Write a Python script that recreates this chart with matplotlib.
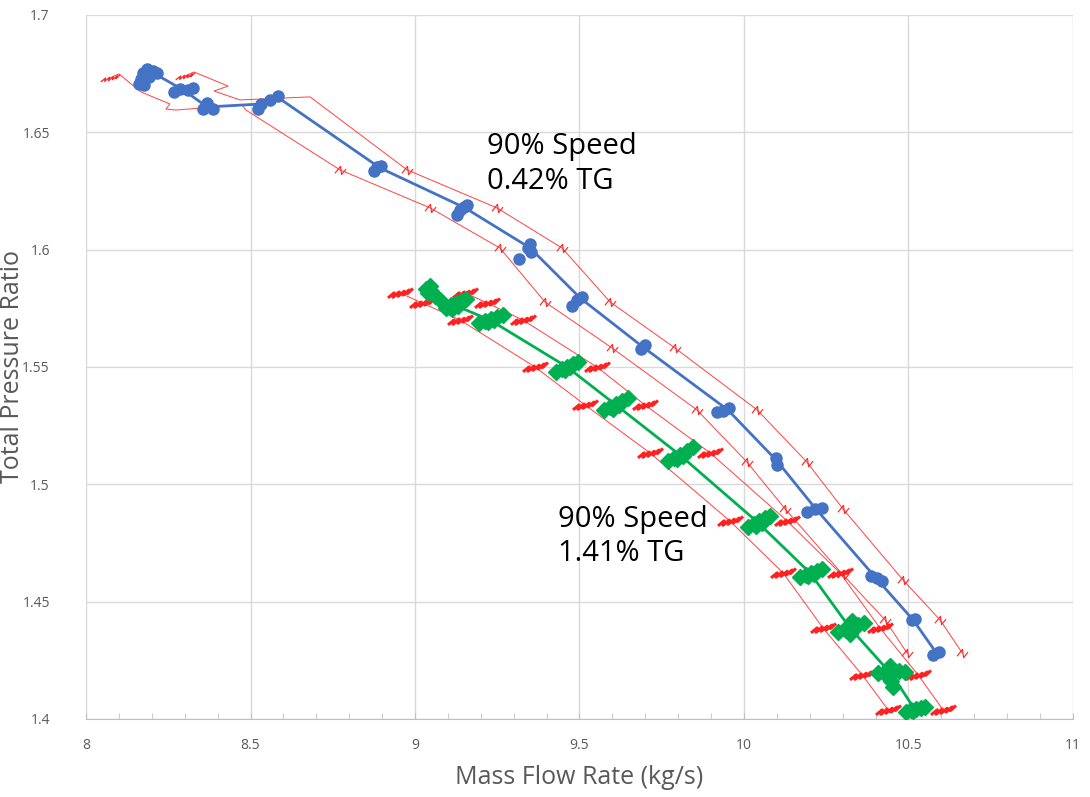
import matplotlib
matplotlib.use('Agg')
import matplotlib.pyplot as plt
from matplotlib.path import Path
from matplotlib.ticker import MultipleLocator

plt.rcParams['font.family'] = ['Open Sans', 'DejaVu Sans']

# --- 90% speed, 0.42% TG (blue) ---
blue_line_x = [8.216, 8.301, 8.368, 8.535, 8.581, 8.894, 9.152, 9.350, 9.502, 9.693,
               9.951, 10.100, 10.216, 10.401, 10.514, 10.587]
blue_line_y = [1.6744, 1.6676, 1.6608, 1.6621, 1.6651, 1.6348, 1.6178, 1.6007, 1.5794, 1.5585,
               1.5317, 1.5100, 1.4899, 1.4601, 1.4422, 1.4277]

blue_pts_x = [8.167, 8.173, 8.185, 8.204, 8.216, 8.176, 8.191, 8.161,
              8.267, 8.286, 8.310, 8.325,
              8.356, 8.368, 8.386,
              8.523, 8.532, 8.559, 8.584,
              8.875, 8.884, 8.897,
              9.128, 9.137, 9.149, 9.158,
              9.316, 9.343, 9.353, 9.350,
              9.477, 9.492, 9.508,
              9.687, 9.699,
              9.918, 9.936, 9.954,
              10.097, 10.100,
              10.191, 10.216, 10.237,
              10.386, 10.404, 10.420,
              10.511, 10.520,
              10.574, 10.593]
blue_pts_y = [1.6727, 1.6753, 1.6770, 1.6761, 1.6753, 1.6702, 1.6736, 1.6706,
              1.6672, 1.6685, 1.6680, 1.6689,
              1.6600, 1.6625, 1.6600,
              1.6600, 1.6621, 1.6638, 1.6655,
              1.6335, 1.6352, 1.6357,
              1.6148, 1.6169, 1.6182, 1.6190,
              1.5960, 1.6007, 1.5990, 1.6024,
              1.5760, 1.5786, 1.5798,
              1.5577, 1.5594,
              1.5308, 1.5313, 1.5326,
              1.5112, 1.5083,
              1.4882, 1.4895, 1.4899,
              1.4610, 1.4601, 1.4588,
              1.4422, 1.4426,
              1.4273, 1.4286]

# uncertainty bounds around the blue run
blue_lo_x = [8.073, 8.100, 8.167, 8.255, 8.243, 8.274, 8.474, 8.486, 8.772, 9.046, 9.258,
             9.395, 9.599, 9.857, 10.009, 10.125, 10.301, 10.429, 10.495]
blue_lo_y = [1.6732, 1.6749, 1.6672, 1.6621, 1.6599, 1.6595, 1.6617, 1.6595, 1.6340, 1.6178, 1.6007,
             1.5777, 1.5581, 1.5317, 1.5095, 1.4895, 1.4614, 1.4422, 1.4282]
blue_hi_x = [8.301, 8.328, 8.432, 8.389, 8.468, 8.681, 8.976, 9.249, 9.447, 9.593, 9.790,
             10.040, 10.191, 10.301, 10.483, 10.596, 10.663]
blue_hi_y = [1.6740, 1.6757, 1.6697, 1.6676, 1.6638, 1.6651, 1.6340, 1.6178, 1.6007, 1.5777, 1.5581,
             1.5317, 1.5095, 1.4895, 1.4593, 1.4422, 1.4282]

# --- 90% speed, 1.41% TG (green) ---
green_line_x = [9.052, 9.119, 9.228, 9.462, 9.611, 9.805, 10.040, 10.201, 10.322, 10.450, 10.520]
green_line_y = [1.5816, 1.5764, 1.5700, 1.5500, 1.5338, 1.5125, 1.4840, 1.4622, 1.4388, 1.4188, 1.4039]

green_pts_x = [9.033, 9.049, 9.061, 9.076, 9.046, 9.040,
               9.094, 9.109, 9.125, 9.140, 9.155, 9.113, 9.130,
               9.195, 9.213, 9.231, 9.249, 9.268, 9.222, 9.240,
               9.429, 9.447, 9.462, 9.480, 9.495, 9.455, 9.472,
               9.575, 9.593, 9.611, 9.629, 9.647, 9.603, 9.620,
               9.769, 9.787, 9.806, 9.827, 9.845, 9.795, 9.815,
               10.012, 10.030, 10.046, 10.064, 10.079, 10.038, 10.055,
               10.170, 10.188, 10.204, 10.222, 10.237, 10.196, 10.212,
               10.286, 10.307, 10.325, 10.347, 10.365, 10.322, 10.328, 10.310,
               10.407, 10.429, 10.450, 10.471, 10.489, 10.444, 10.447, 10.453, 10.438,
               10.492, 10.508, 10.523, 10.538, 10.550, 10.515]
green_pts_y = [1.5833, 1.5824, 1.5803, 1.5786, 1.5845, 1.5815,
               1.5752, 1.5764, 1.5773, 1.5781, 1.5790, 1.5747, 1.5760,
               1.5688, 1.5696, 1.5705, 1.5713, 1.5722, 1.5690, 1.5700,
               1.5479, 1.5492, 1.5500, 1.5513, 1.5522, 1.5485, 1.5498,
               1.5317, 1.5330, 1.5343, 1.5355, 1.5368, 1.5323, 1.5337,
               1.5100, 1.5112, 1.5125, 1.5142, 1.5159, 1.5108, 1.5122,
               1.4818, 1.4831, 1.4844, 1.4857, 1.4865, 1.4822, 1.4836,
               1.4605, 1.4614, 1.4622, 1.4631, 1.4639, 1.4608, 1.4618,
               1.4371, 1.4384, 1.4392, 1.4401, 1.4409, 1.4362, 1.4418, 1.4380,
               1.4196, 1.4201, 1.4196, 1.4205, 1.4201, 1.4226, 1.4162, 1.4137, 1.4180,
               1.4030, 1.4039, 1.4043, 1.4047, 1.4052, 1.4032]

green_lo_x = [8.954, 9.021, 9.137, 9.365, 9.517, 9.714, 9.957, 10.119, 10.240, 10.359, 10.438]
green_hi_x = [9.152, 9.219, 9.328, 9.553, 9.699, 9.897, 10.131, 10.292, 10.413, 10.529, 10.605]
green_bnd_y = [1.5816, 1.5773, 1.5700, 1.5500, 1.5338, 1.5134, 1.4844, 1.4622, 1.4388, 1.4188, 1.4039]

BLUE = '#4472C4'
GREEN = '#00B050'
RED = '#FF2020'
GREY = '#595959'

# small kink drawn where the bound traces jump, and the dense scribble of the green bounds
kink = Path([(-0.8, -0.4), (0.0, 0.6), (0.15, -0.6), (0.8, 0.2)])
scribble = Path([(-1, -0.35), (-0.5, 0.05), (-0.6, -0.3), (-0.1, 0.12), (-0.2, -0.22),
                 (0.3, 0.18), (0.2, -0.12), (0.7, 0.28), (0.55, 0.0), (1, 0.4)])

fig = plt.figure(figsize=(10.9, 7.97), dpi=100)
ax = fig.add_axes([0.0789, 0.0979, 0.9055, 0.8833])

# red bound traces
ax.plot(blue_lo_x, blue_lo_y, color=RED, lw=0.7, alpha=0.85, zorder=2)
ax.plot(blue_hi_x, blue_hi_y, color=RED, lw=0.7, alpha=0.85, zorder=2)
ax.plot(blue_lo_x[8:], blue_lo_y[8:], ls='none', marker=kink, ms=8, mfc='none',
        mec=RED, mew=0.8, zorder=2)
ax.plot(blue_hi_x[6:], blue_hi_y[6:], ls='none', marker=kink, ms=8, mfc='none',
        mec=RED, mew=0.8, zorder=2)
ax.plot([blue_lo_x[0], blue_hi_x[0]], [blue_lo_y[0], blue_hi_y[0]], ls='none', marker=scribble,
        ms=14, mfc='none', mec=RED, mew=0.9, zorder=2)

ax.plot(green_lo_x, green_bnd_y, color=RED, lw=0.7, alpha=0.85, zorder=2)
ax.plot(green_hi_x, green_bnd_y, color=RED, lw=0.7, alpha=0.85, zorder=2)
ax.plot(green_lo_x, green_bnd_y, ls='none', marker=scribble, ms=18, mfc='none',
        mec=RED, mew=2.2, zorder=2)
ax.plot(green_hi_x, green_bnd_y, ls='none', marker=scribble, ms=18, mfc='none',
        mec=RED, mew=2.2, zorder=2)

# measured runs
ax.plot(blue_line_x, blue_line_y, color=BLUE, lw=2.0, zorder=3)
ax.plot(blue_pts_x, blue_pts_y, ls='none', marker='o', ms=8, color=BLUE, zorder=4)
ax.plot(green_line_x, green_line_y, color=GREEN, lw=2.0, zorder=3)
ax.plot(green_pts_x, green_pts_y, ls='none', marker='D', ms=8, color=GREEN, zorder=4)

ax.text(9.219, 1.650, '90% Speed\n0.42% TG', fontsize=21, va='top', ha='left',
        linespacing=1.25, zorder=5)
ax.text(9.435, 1.4912, '90% Speed\n1.41% TG', fontsize=21, va='top', ha='left',
        linespacing=1.25, zorder=5)

ax.set_xlim(8, 11)
ax.set_ylim(1.4, 1.7)
ax.xaxis.set_minor_locator(MultipleLocator(0.1))
ax.set_xticks([8, 8.5, 9, 9.5, 10, 10.5, 11])
ax.set_xticklabels(['8', '8.5', '9', '9.5', '10', '10.5', '11'])
ax.set_yticks([1.4, 1.45, 1.5, 1.55, 1.6, 1.65, 1.7])
ax.set_yticklabels(['1.4', '1.45', '1.5', '1.55', '1.6', '1.65', '1.7'])
ax.grid(True, which='major', color='#D9D9D9', lw=1.0, zorder=0)
ax.set_axisbelow(True)
for s in ['top', 'right', 'left']:
    ax.spines[s].set_visible(False)
ax.spines['bottom'].set_color('#BFBFBF')
ax.tick_params(axis='x', which='both', direction='in', length=4, color='#BFBFBF',
               labelsize=10, labelcolor=GREY, pad=14)
ax.tick_params(axis='y', which='both', length=0, labelsize=10, labelcolor=GREY, pad=26)

ax.set_xlabel('Mass Flow Rate (kg/s)', fontsize=18, color=GREY)
ax.set_ylabel('Total Pressure Ratio', fontsize=18, color=GREY)
ax.xaxis.set_label_coords(0.5, -0.065)
ax.yaxis.set_label_coords(-0.062, 0.5)

fig.savefig('out.png', dpi=100)
